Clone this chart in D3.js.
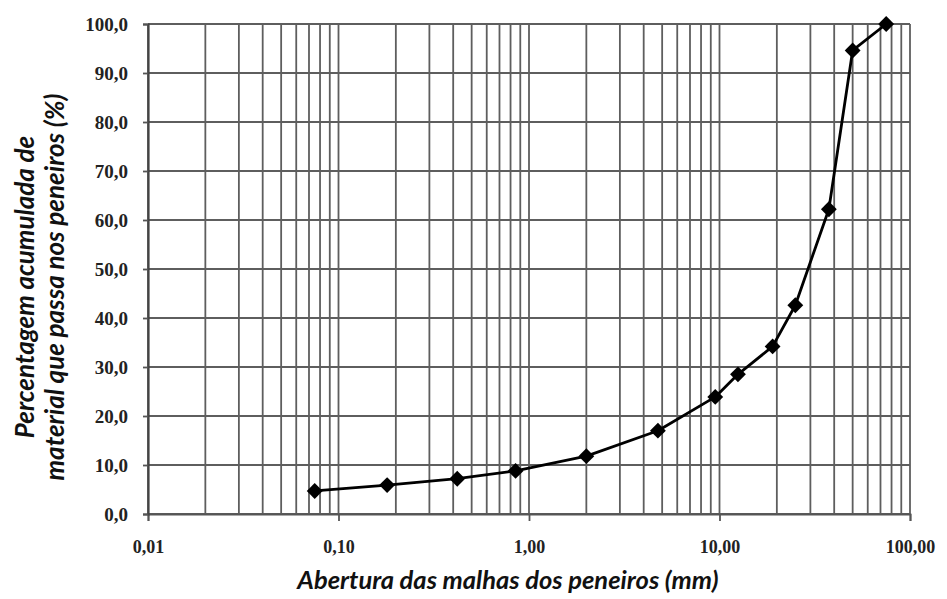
<!DOCTYPE html>
<html>
<head>
<meta charset="utf-8">
<script src="https://cdn.jsdelivr.net/npm/d3@7"></script>
<style>
  html, body { margin: 0; padding: 0; background: #fff; }
  svg { display: block; }
</style>
</head>
<body>
<svg id="chart" width="947" height="599"></svg>
<script>
// Sieve openings (mm) and cumulative percentage passing
const sieveSizes = [0.075, 0.18, 0.42, 0.85, 2.0, 4.75, 9.5, 12.5, 19, 25, 37.5, 50, 75];
const percentPassing = [4.7, 5.9, 7.2, 8.8, 11.8, 17.0, 23.9, 28.5, 34.2, 42.6, 62.2, 94.6, 100.0];

const xTickValues = [0.01, 0.1, 1, 10, 100];
const xTickLabels = ["0,01", "0,10", "1,00", "10,00", "100,00"];
const yTickValues = [0, 10, 20, 30, 40, 50, 60, 70, 80, 90, 100];
const yTickLabels = ["0,0", "10,0", "20,0", "30,0", "40,0", "50,0", "60,0", "70,0", "80,0", "90,0", "100,0"];

const xTitle = "Abertura das malhas dos peneiros (mm)";
const yTitleLines = ["Percentagem acumulada de", "material que passa nos peneiros (%)"];

const svg = d3.select("#chart");
const margin = { left: 148, right: 37, top: 24, bottom: 85 };
const W = 947, H = 599;

const x = d3.scaleLog().domain([0.01, 100]).range([margin.left, W - margin.right]);
const y = d3.scaleLinear().domain([0, 100]).range([H - margin.bottom, margin.top]);

const gridColor = "#5e5e5e";

// Minor + major vertical grid lines for each decade
const vGrid = [];
for (let e = -2; e < 2; e++) {
  for (let m = 1; m <= 9; m++) vGrid.push(m * Math.pow(10, e));
}
vGrid.push(100);

const grid = svg.append("g");
grid.selectAll("line.v").data(vGrid).join("line")
  .attr("x1", d => x(d)).attr("x2", d => x(d))
  .attr("y1", y(0)).attr("y2", y(100))
  .attr("stroke", gridColor).attr("stroke-width", 1.8);

grid.selectAll("line.h").data(yTickValues).join("line")
  .attr("x1", x(0.01)).attr("x2", x(100))
  .attr("y1", d => y(d)).attr("y2", d => y(d))
  .attr("stroke", gridColor).attr("stroke-width", 1.8);

// Axes
const labelFont = "'Liberation Serif', 'DejaVu Serif', serif";

const xAxis = svg.append("g")
  .attr("transform", `translate(0,${y(0)})`)
  .call(d3.axisBottom(x).tickValues(xTickValues)
    .tickFormat((d, i) => xTickLabels[i]).tickSize(7).tickPadding(19));
xAxis.select(".domain").attr("stroke", "#555").attr("stroke-width", 1.8);
xAxis.selectAll(".tick line").attr("stroke", "#555").attr("stroke-width", 1.8);
xAxis.selectAll(".tick text")
  .attr("font-family", labelFont).attr("font-size", 18).attr("font-weight", "bold")
  .attr("fill", "#222");

const yAxis = svg.append("g")
  .attr("transform", `translate(${x(0.01)},0)`)
  .call(d3.axisLeft(y).tickValues(yTickValues)
    .tickFormat((d, i) => yTickLabels[i]).tickSize(5).tickPadding(15));
yAxis.select(".domain").attr("stroke", "#444").attr("stroke-width", 2.2);
yAxis.selectAll(".tick line").attr("stroke", "#555").attr("stroke-width", 1.8);
yAxis.selectAll(".tick text")
  .attr("font-family", labelFont).attr("font-size", 19).attr("font-weight", "bold")
  .attr("fill", "#222");

// Grading curve
const pts = sieveSizes.map((s, i) => [s, percentPassing[i]]);
svg.append("path")
  .datum(pts)
  .attr("fill", "none")
  .attr("stroke", "#000")
  .attr("stroke-width", 2.8)
  .attr("stroke-linejoin", "round")
  .attr("d", d3.line().x(d => x(d[0])).y(d => y(d[1])));

const diamond = d3.symbol().type(d3.symbolDiamond2).size(160);
svg.append("g").selectAll("path").data(pts).join("path")
  .attr("transform", d => `translate(${x(d[0])},${y(d[1])})`)
  .attr("d", diamond)
  .attr("fill", "#000");

// Axis titles
const titleFont = "Lato, 'Open Sans', sans-serif";
svg.append("text")
  .attr("x", 508)
  .attr("y", 589)
  .attr("text-anchor", "middle")
  .attr("font-family", titleFont).attr("font-size", 25.5)
  .attr("font-weight", "bold").attr("font-style", "italic")
  .attr("fill", "#111")
  .text(xTitle);

const yt = svg.append("text")
  .attr("transform", `translate(34,287) rotate(-90)`)
  .attr("text-anchor", "middle")
  .attr("font-family", titleFont).attr("font-size", 26)
  .attr("font-weight", "bold").attr("font-style", "italic")
  .attr("fill", "#111");
yt.selectAll("tspan").data(yTitleLines).join("tspan")
  .attr("x", 0).attr("dy", (d, i) => i === 0 ? 0 : 30)
  .text(d => d);
</script>
</body>
</html>
